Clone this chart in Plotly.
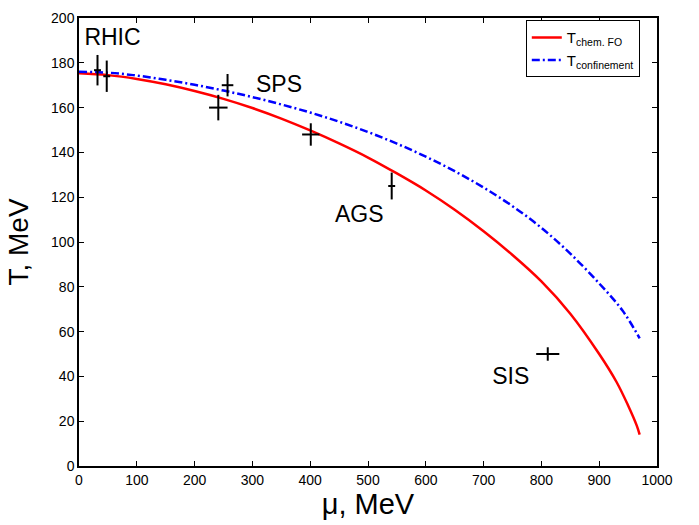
import plotly.graph_objects as go

# Chemical freeze-out curve T(mu), MeV
mu_chem = [0, 50, 100, 150, 200, 250, 300, 350, 400, 450, 500, 550, 600, 650,
           700, 750, 800, 850, 900, 930, 950, 965, 970]
t_chem = [175.3, 174.5, 172.8, 170.4, 167.4, 163.9, 159.8, 155.1, 149.8, 144.0,
          137.7, 130.6, 123.0, 114.4, 104.8, 94.2, 82.4, 68.0, 50.0, 37.5,
          27.0, 18.0, 14.0]

# Confinement curve T(mu), MeV
mu_conf = [0, 50, 100, 150, 200, 250, 300, 350, 400, 450, 500, 550, 600, 650,
           700, 750, 800, 850, 900, 940, 970]
t_conf = [176.0, 175.6, 174.3, 172.4, 170.2, 167.6, 164.7, 161.4, 157.8, 153.7,
          149.1, 143.9, 138.1, 131.6, 124.3, 116.0, 106.3, 94.8, 81.5, 69.5, 57.0]

# Experimental freeze-out points with uncertainties
mu_data = [32, 48, 241, 257, 401, 541, 811]
t_data = [176.7, 174, 160, 170, 148, 125, 50]
dmu_data = [6, 6, 16, 10, 15, 6, 20]
dt_data = [6.8, 7, 5.7, 5, 5, 6, 3]

# Experiment labels
exp_names = ["RHIC", "SPS", "AGS", "SIS"]
exp_mu = [58, 346, 485, 747]
exp_t = [190.3, 169.5, 111.3, 39.1]

FONT = "Liberation Sans, Arial, Helvetica, sans-serif"

fig = go.Figure()

fig.add_trace(go.Scatter(
    x=mu_chem, y=t_chem, mode="lines", line_shape="spline",
    line=dict(color="#ff0000", width=2.5),
    name="T<sub>chem. FO</sub>",
))
fig.add_trace(go.Scatter(
    x=mu_conf, y=t_conf, mode="lines", line_shape="spline",
    line=dict(color="#0000ff", width=2.5, dash="8px,3px,2px,3px"),
    name="T<sub>confinement</sub>",
))
fig.add_trace(go.Scatter(
    x=mu_data, y=t_data, mode="markers",
    marker=dict(size=1, color="black"),
    error_x=dict(type="data", array=dmu_data, visible=True, color="black",
                 thickness=2, width=0),
    error_y=dict(type="data", array=dt_data, visible=True, color="black",
                 thickness=2, width=0),
    showlegend=False,
))

fig.add_trace(go.Scatter(
    x=exp_mu, y=exp_t, mode="text", text=exp_names,
    textfont=dict(family=FONT, size=23, color="black"),
    showlegend=False,
))

axis_common = dict(
    showline=True, mirror="ticks", linecolor="black", linewidth=1.5,
    ticks="inside", ticklen=5, tickcolor="black", tickwidth=1,
    showgrid=False, zeroline=False,
    tickfont=dict(family=FONT, size=14, color="black"),
)

fig.update_layout(
    width=699, height=525,
    margin=dict(l=79, r=42, t=10, b=59),
    paper_bgcolor="white", plot_bgcolor="white",
    font=dict(family=FONT, color="black"),
    xaxis=dict(range=[0, 1000], dtick=100,
               title=dict(text="μ, MeV", font=dict(family=FONT, size=29),
                          standoff=2),
               **axis_common),
    yaxis=dict(range=[0, 200], dtick=20,
               title=dict(text="T, MeV", font=dict(family=FONT, size=28),
                          standoff=14),
               **axis_common),
    legend=dict(
        x=0.773, y=0.995, xanchor="left", yanchor="top",
        bgcolor="white", bordercolor="black", borderwidth=1,
        font=dict(family=FONT, size=15, color="black"),
        tracegroupgap=0, itemwidth=30,
    ),
)

fig.write_html("out.html")
